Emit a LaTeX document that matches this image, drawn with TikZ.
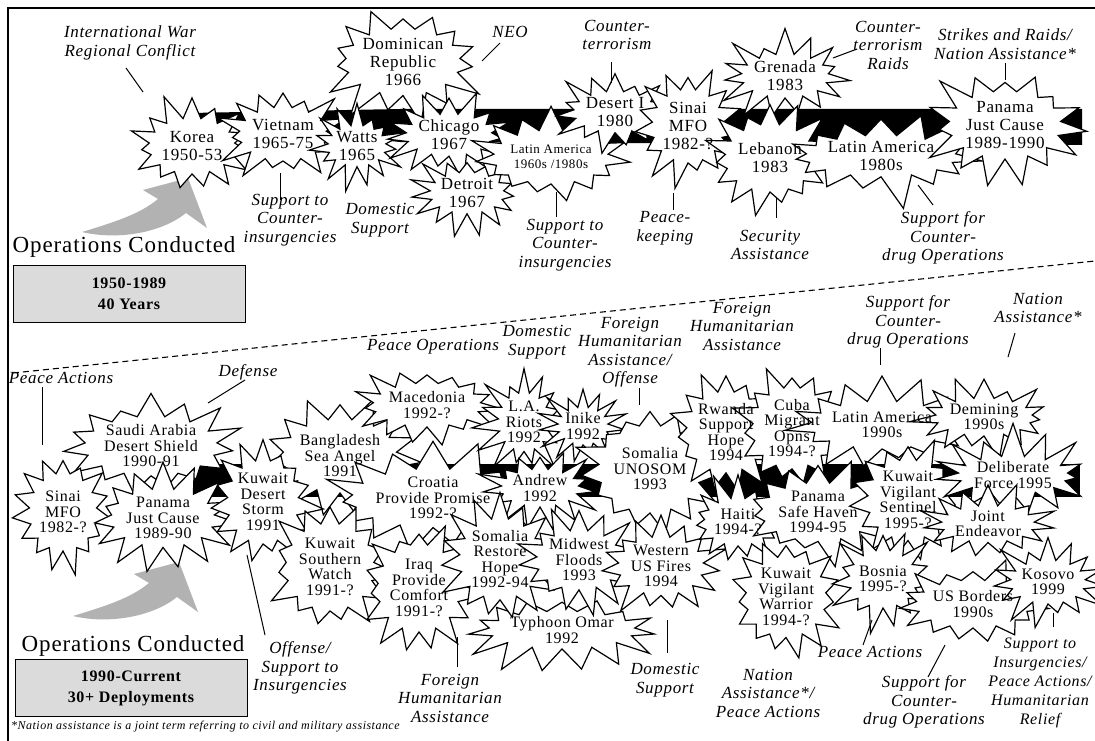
\documentclass[tikz,border=0pt]{standalone}
\usepackage{fontspec}
\setmainfont{Liberation Serif}[LetterSpace=4]
\usepackage{tikz}
\usetikzlibrary{shapes.symbols}

% bursts: name/x/y/width/height/seed/extra style/text
\def\burstsold{%
  korea/192/146/104/110/11/bn/{Korea\\1950-53},
  vietnam/283/134/104/108/12/bn/{Vietnam\\1965-75},
  dominican/403/62/165/122/13/bp/{Dominican\\Republic\\1966},
  watts/357/146/84/95/14/bn/{Watts\\1965},
  chicago/449/135/112/90/15/bn/{Chicago\\1967},
  detroit/467/193/104/92/16/bn/{Detroit\\1967},
  latamA/551/157/138/108/17/bs/{Latin America\\1960s /1980s},
  desert/615/112/92/92/18/bn/{Desert I\\1980},
  sinaiA/688/126/92/128/19/bn/{Sinai\\MFO\\1982-?},
  grenada/785/76/132/98/20/bn/{Grenada\\1983},
  lebanon/770/158/112/122/21/bn/{Lebanon\\1983},
  latamB/881/156/178/98/22/bp/{Latin America\\1980s},
  panamaA/1005/125/158/134/23/bp/{Panama\\Just Cause\\1989-1990}}
\def\burstsnew{%
  saudi/151/446/190/116/31/bp/{Saudi Arabia\\Desert Shield\\1990-91},
  sinaiB/63/512/98/132/32/bn/{Sinai\\MFO\\1982-?},
  panamaB/163/518/138/112/33/bn/{Panama\\Just Cause\\1989-90},
  bangla/340/456/142/128/35/bn/{Bangladesh\\Sea Angel\\1991},
  storm/263/502/98/138/34/bn/{Kuwait\\Desert\\Storm\\1991},
  macedonia/427/405/138/98/36/bn/{Macedonia\\1992-?},
  croatia/433/498/172/122/37/bp/{Croatia\\Provide Promise\\1992-?},
  southern/330/567/112/142/38/bn/{Kuwait\\Southern\\Watch\\1991-?},
  iraq/419/588/118/142/39/bn/{Iraq\\Provide\\Comfort\\1991-?},
  lariots/524/422/80/108/40/bn/{L.A.\\Riots\\1992},
  inike/583/426/80/84/41/bn/{Inike\\1992},
  andrew/540/488/108/92/42/bn/{Andrew\\1992},
  somaliaU/650/469/118/142/45/bn/{Somalia\\UNOSOM\\1993},
  typhoon/562/630/198/102/46/bp/{Typhoon Omar\\1992},
  restore/500/559/112/112/43/bn/{Somalia\\Restore\\Hope\\1992-94},
  floods/579/560/92/98/44/bn/{Midwest\\Floods\\1993},
  fires/661/566/128/108/47/bn/{Western\\US Fires\\1994},
  rwanda/726/432/88/118/48/bn/{Rwanda\\Support\\Hope\\1994},
  cuba/792/428/92/118/49/bn/{Cuba\\Migrant\\Opns\\1994-?},
  haiti/738/522/102/102/50/bn/{Haiti\\1994-?},
  haven/818/512/118/94/51/bn/{Panama\\Safe Haven\\1994-95},
  warrior/786/597/134/124/52/bn/{Kuwait\\Vigilant\\Warrior\\1994-?},
  latamC/882/425/148/102/53/bn/{Latin America\\1990s},
  demining/984/417/104/92/54/bn/{Demining\\1990s},
  sentinel/908/500/112/112/55/bn/{Kuwait\\Vigilant\\Sentinel\\1995-?},
  deliberate/1013/475/164/98/56/bp/{Deliberate\\Force 1995},
  joint/988/524/98/88/57/bn/{Joint\\Endeavor},
  bosnia/883/579/108/112/58/bn/{Bosnia\\1995-?},
  borders/973/604/118/102/59/bn/{US Borders\\1990s},
  kosovo/1048/582/114/98/60/bn/{Kosovo\\1999}}

\begin{document}
\begin{tikzpicture}[
  x=1pt, y=-1pt,
  burst/.style={starburst, draw, fill=white, line width=1.2pt,
                starburst points=15, starburst point height=27pt,
                inner sep=0pt, text opacity=0},
  bn/.style={},
  bp/.style={starburst point height=33pt},
  bs/.style={font=\fontsize{13}{15}\selectfont},
  btop/.style={inner sep=0pt, align=center, font=\fontsize{17}{18}\selectfont},
  bbot/.style={inner sep=0pt, align=center, font=\fontsize{16}{15.5}\selectfont},
  sz/.style 2 args={minimum width=#1pt, minimum height=#2pt},
  lbl/.style={align=center, inner sep=0pt,
              font=\fontsize{17}{18.5}\selectfont\itshape},
  ldr/.style={line width=1pt},
  yearbox/.style={draw, fill=black!14, line width=1pt, minimum width=232pt,
                  minimum height=57pt, align=center,
                  font=\fontsize{16}{21}\selectfont\bfseries},
  title/.style={inner sep=0pt, font=\fontsize{23}{24}\selectfont},
  arrowgray/.style={fill=black!30},
]
\useasboundingbox (0,0) rectangle (1095,741);
\fill[white] (0,0) rectangle (1095,741);

% frame
\draw[line width=1.6pt] (8,741) -- (8,8) -- (1095,8);

% timelines
\fill (190,113) -- (400,109) -- (1082,109) -- (1082,145) -- (400,142) -- (190,121) -- cycle;
\fill (190,464) -- (1080,464) -- (1080,497) -- (190,497) -- cycle;

% divider
\coordinate (divA) at (13,373);
\coordinate (divB) at (1095,261);
\draw[line width=1.1pt, dash pattern=on 6pt off 4pt] (divA) -- (divB);

% gray arrows
\foreach \dx/\dy in {0/0, -9/384}{
  \begin{scope}[shift={(\dx,\dy)}]
    \fill[arrowgray] (82,232) .. controls (115,222) and (140,214) .. (158,199)
      -- (143,190) -- (188,178) -- (207,228) -- (186,213)
      .. controls (160,234) and (115,240) .. (82,232) -- cycle;
  \end{scope}
}

% operations: shapes first, names on top
\foreach \n/\x/\y/\w/\h/\s/\o/\t in \burstsold{
  \node[btop, burst, sz={\w}{\h}, random starburst=\s, \o] (\n) at (\x,\y) {\t};
}
\foreach \n/\x/\y/\w/\h/\s/\o/\t in \burstsnew{
  \node[bbot, burst, sz={\w}{\h}, random starburst=\s, \o] (\n) at (\x,\y) {\t};
}
\foreach \n/\x/\y/\w/\h/\s/\o/\t in \burstsold{
  \node[btop, \o] (\n-t) at (\n) {\t};
}
\foreach \n/\x/\y/\w/\h/\s/\o/\t in \burstsnew{
  \node[bbot] (\n-t) at (\n) {\t};
}

% mission labels, upper part
\node[lbl] (lblWar) at (130,43) {International War\\Regional Conflict};
\node[lbl] (lblNeo) at (510,32) {NEO};
\node[lbl] (lblCtA) at (617,35) {Counter-\\terrorism};
\node[lbl] (lblCtB) at (888,45) {Counter-\\terrorism\\Raids};
\node[lbl] (lblStrike) at (1005,44) {Strikes and Raids/\\Nation Assistance*};
\node[lbl] (lblSupA) at (290,220) {Support to\\Counter-\\insurgencies};
\node[lbl] (lblDomA) at (380,220) {Domestic\\Support};
\node[lbl] (lblSupB) at (565,245) {Support to\\Counter-\\insurgencies};
\node[lbl] (lblKeep) at (665,228) {Peace-\\keeping};
\node[lbl] (lblSec) at (770,245) {Security\\Assistance};
\node[lbl] (lblDrugA) at (943,238) {Support for\\Counter-\\drug Operations};

% mission labels, lower part
\node[lbl] (lblPA) at (61,378) {Peace Actions};
\node[lbl] (lblDef) at (248,372) {Defense};
\node[lbl] (lblPO) at (433,347) {Peace Operations};
\node[lbl] (lblDomB) at (537,342) {Domestic\\Support};
\node[lbl] (lblFHAO) at (630,352) {Foreign\\Humanitarian\\Assistance/\\Offense};
\node[lbl] (lblFHA) at (742,326) {Foreign\\Humanitarian\\Assistance};
\node[lbl] (lblDrugB) at (908,322) {Support for\\Counter-\\drug Operations};
\node[lbl] (lblNA) at (1038,308) {Nation\\Assistance*};
\node[lbl] (lblOff) at (300,668) {Offense/\\Support to\\Insurgencies};
\node[lbl] (lblFHAB) at (450,698) {Foreign\\Humanitarian\\Assistance};
\node[lbl] (lblDomC) at (665,680) {Domestic\\Support};
\node[lbl] (lblNAP) at (768,693) {Nation\\Assistance*/\\Peace Actions};
\node[lbl] (lblPAB) at (870,652) {Peace Actions};
\node[lbl] (lblDrugC) at (924,702) {Support for\\Counter-\\drug Operations};
\node[lbl, font=\fontsize{16}{19}\selectfont\itshape] (lblIns) at (1040,683)
  {Support to\\Insurgencies/\\Peace Actions/\\Humanitarian\\Relief};

% leader lines
\foreach \i/\p/\q in {1/{126,68}/{143,92}, 2/{500,43}/{482,61}, 3/{611,62}/{611,83},
    4/{833,58}/{857,49}, 5/{1005,63}/{1005,80}, 6/{280,173}/{280,200},
    7/{556,192}/{556,217}, 8/{673,193}/{673,210}, 9/{776,197}/{776,218},
    10/{918,185}/{933,205}, 11/{42,387}/{42,445}, 12/{245,380}/{208,403},
    13/{639,388}/{639,405}, 14/{880,348}/{880,365}, 15/{1015,333}/{1008,357},
    16/{247,555}/{265,635}, 17/{457,637}/{457,667}, 18/{667,620}/{667,653},
    19/{872,620}/{863,645}, 20/{945,645}/{928,677}, 21/{1053,613}/{1053,627}}{
  \coordinate (ld\i a) at (\p);
  \coordinate (ld\i b) at (\q);
  \draw[ldr] (ld\i a) -- (ld\i b);
}

% period boxes
\node[title] (opsA) at (124,247) {Operations Conducted};
\node[yearbox] (boxA) at (129,294) {1950-1989\\40 Years};
\node[title] (opsB) at (133,646) {Operations Conducted};
\node[yearbox] (boxB) at (131,688) {1990-Current\\30+ Deployments};

\node[anchor=west, inner sep=0pt, font=\fontsize{12}{13}\selectfont\itshape] (note) at (11,727)
  {*Nation assistance is a joint term referring to civil and military assistance};
\end{tikzpicture}
\end{document}
